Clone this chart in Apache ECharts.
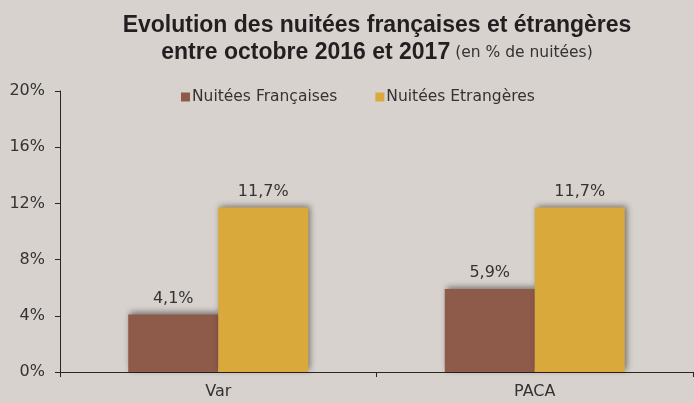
<!DOCTYPE html>
<html><head><meta charset="utf-8">
<script src="https://cdn.jsdelivr.net/npm/echarts@6/dist/echarts.min.js"></script>
<style>html,body{margin:0;padding:0;background:#d7d2ce;}#c{width:694px;height:403px;}</style>
</head><body><div id="c"></div>
<script>
var categories = ['Var', 'PACA'];
var seriesNames = ['Nuitées Françaises', 'Nuitées Etrangères'];
var francaises = [4.1, 5.9];
var etrangeres = [11.7, 11.7];
var yTicks = [0, 4, 8, 12, 16, 20];

var chart = echarts.init(document.getElementById('c'));
function fmt(v){ return String(v).replace('.', ',') + '%'; }
var labelStyle = {show:true, position:'top', distance:8, color:'#333', fontFamily:'DejaVu Sans', fontSize:16,
  formatter:function(p){ return fmt(p.value.toFixed(1)); }};
chart.setOption({
  backgroundColor:'#d7d2ce',
  animation:false,
  title:[{
    text:'Evolution des nuitées françaises et étrangères',
    left:372, top:9, textAlign:'center',
    textStyle:{fontFamily:'Liberation Sans', fontWeight:'bold', fontSize:23, color:'#231f20'}
  },{
    text:'{b|entre octobre 2016 et 2017} {n|(en % de nuitées)}',
    left:372, top:36, textAlign:'center',
    textStyle:{fontWeight:'normal', rich:{
      b:{fontFamily:'Liberation Sans', fontWeight:'bold', fontSize:23, color:'#231f20'},
      n:{fontFamily:'DejaVu Sans', fontWeight:'normal', fontSize:15.5, color:'#333'}
    }}
  }],
  legend:{
    data:seriesNames, left:176, top:84, icon:'rect', itemWidth:9, itemHeight:9, itemGap:38,
    textStyle:{fontFamily:'DejaVu Sans', fontSize:15.5, color:'#333', padding:[0,0,0,-3]}
  },
  grid:{left:60, right:1, top:91, bottom:31},
  xAxis:{type:'category', data:categories,
    axisLine:{lineStyle:{color:'#2a2522', width:1}},
    axisTick:{show:true, length:5, lineStyle:{color:'#2a2522'}},
    axisLabel:{fontFamily:'DejaVu Sans', fontSize:16, color:'#333', margin:12}
  },
  yAxis:{type:'value', min:0, max:20, interval:4,
    axisLine:{show:true, lineStyle:{color:'#2a2522', width:1}},
    axisTick:{show:true, length:5, lineStyle:{color:'#2a2522'}},
    splitLine:{show:false},
    axisLabel:{fontFamily:'DejaVu Sans', fontSize:16, color:'#333', margin:15,
      formatter:function(v){ return v + '%'; }}
  },
  series:[{
    name:seriesNames[0], type:'bar', data:francaises, barWidth:90, barGap:'0%',
    itemStyle:{color:'#8e5a4a', shadowColor:'rgba(0,0,0,0.45)', shadowBlur:6, shadowOffsetX:2, shadowOffsetY:-2},
    label:labelStyle
  },{
    name:seriesNames[1], type:'bar', data:etrangeres, barWidth:90,
    itemStyle:{color:'#daa93c', shadowColor:'rgba(0,0,0,0.45)', shadowBlur:6, shadowOffsetX:2, shadowOffsetY:-2},
    label:labelStyle
  }]
});
</script></body></html>
